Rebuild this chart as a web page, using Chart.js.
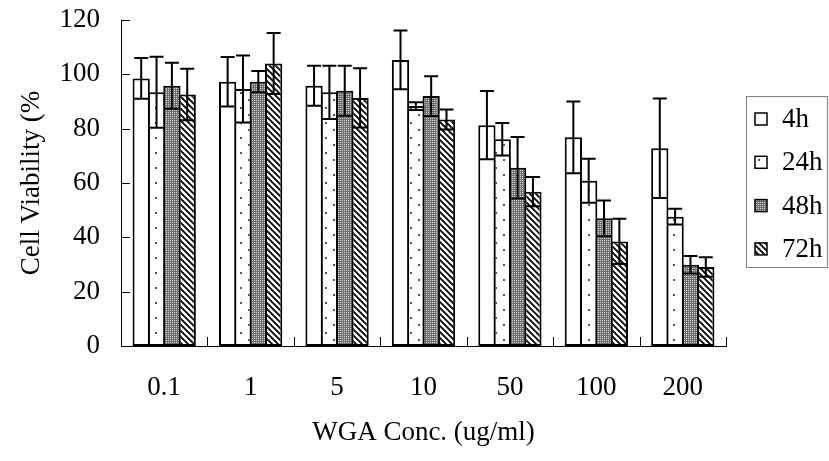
<!DOCTYPE html>
<html>
<head>
<meta charset="utf-8">
<script src="https://cdn.jsdelivr.net/npm/chart.js@4.4.0/dist/chart.umd.min.js"></script>
<style>
  html, body { margin: 0; padding: 0; background: #fff; }
  #wrap { width: 829px; height: 461px; }
</style>
</head>
<body>
<div id="wrap"><canvas id="myChart" width="829" height="461"></canvas></div>
<script>
// values
const categories = ['0.1', '1', '5', '10', '50', '100', '200'];
const seriesNames = ['4h', '24h', '48h', '72h'];
const v4h = [98.5, 97.3, 95.8, 105.3, 81.3, 76.8, 72.8];
const v24h = [93.4, 94.6, 93.4, 88.3, 76.1, 60.8, 47.6];
const v48h = [95.8, 97.3, 94.0, 92.0, 65.6, 47.0, 29.9];
const v72h = [92.6, 104.0, 91.3, 83.4, 56.8, 38.5, 29.1];
const err4h = [7.5, 9.1, 7.4, 10.8, 12.6, 13.2, 18.3];
const err24h = [13.1, 12.3, 9.8, 1.4, 6.0, 8.1, 2.9];
const err48h = [8.5, 3.9, 9.2, 7.3, 11.3, 6.6, 3.2];
const err72h = [9.5, 11.2, 10.9, 3.7, 5.4, 8.3, 3.6];
const yTicks = [0, 20, 40, 60, 80, 100, 120];

const FONT = '"Liberation Serif", "Times New Roman", serif';

function makePattern(w, h, paint) {
  const c = document.createElement('canvas');
  c.width = w;
  c.height = h;
  const g = c.getContext('2d');
  g.fillStyle = '#fff';
  g.fillRect(0, 0, w, h);
  paint(g);
  return g.createPattern(c, 'repeat');
}

const dots = makePattern(17, 15, g => {
  g.fillStyle = '#555';
  g.fillRect(2, 2, 2, 2);
  g.fillRect(10, 9, 2, 2);
});
const stipple = makePattern(2, 2, g => {
  g.fillStyle = '#6e6e6e';
  g.fillRect(0, 0, 2, 2);
  g.fillStyle = '#d4d4d4';
  g.fillRect(0, 0, 1, 1);
});
const hatch = makePattern(6, 6, g => {
  g.strokeStyle = '#000';
  g.lineWidth = 1.8;
  g.beginPath();
  g.moveTo(-1, -1); g.lineTo(7, 7);
  g.moveTo(-1, 5); g.lineTo(1, 7);
  g.moveTo(5, -1); g.lineTo(7, 1);
  g.stroke();
});

const fills = ['#ffffff', dots, stipple, hatch];
const values = [v4h, v24h, v48h, v72h];
const errors = [err4h, err24h, err48h, err72h];

const datasets = seriesNames.map((name, i) => ({
  label: name,
  data: values[i],
  errors: errors[i],
  backgroundColor: fills[i],
  borderColor: '#000',
  borderWidth: 2,
  borderSkipped: false,
  categoryPercentage: 0.71,
  barPercentage: 1.125
}));

// error bars: line from low to high, caps both ends
const errorBars = {
  id: 'errorBars',
  afterDatasetsDraw(chart) {
    const ctx = chart.ctx;
    const y = chart.scales.y;
    ctx.save();
    ctx.strokeStyle = '#000';
    ctx.lineWidth = 2;
    chart.data.datasets.forEach((ds, di) => {
      chart.getDatasetMeta(di).data.forEach((bar, i) => {
        const hi = y.getPixelForValue(ds.data[i] + ds.errors[i]);
        const lo = y.getPixelForValue(ds.data[i] - ds.errors[i]);
        const cap = 7;
        ctx.beginPath();
        ctx.moveTo(bar.x, hi); ctx.lineTo(bar.x, lo);
        ctx.moveTo(bar.x - cap, hi); ctx.lineTo(bar.x + cap, hi);
        ctx.moveTo(bar.x - cap, lo); ctx.lineTo(bar.x + cap, lo);
        ctx.stroke();
      });
    });
    ctx.restore();
  }
};

// inside tick marks and the boxed legend on the right
const decorations = {
  id: 'decorations',
  afterDraw(chart) {
    const ctx = chart.ctx;
    const area = chart.chartArea;
    const x = chart.scales.x;
    const y = chart.scales.y;
    ctx.save();
    ctx.strokeStyle = '#000';
    ctx.lineWidth = 1;
    ctx.beginPath();
    yTicks.forEach(t => {
      const py = Math.round(y.getPixelForValue(t)) + 0.5;
      ctx.moveTo(area.left, py); ctx.lineTo(area.left + 9, py);
    });
    const step = (area.right - area.left) / categories.length;
    for (let k = 0; k <= categories.length; k++) {
      const px = Math.round(x.getPixelForValue(0) - step / 2 + k * step) + 0.5;
      ctx.moveTo(px, area.bottom); ctx.lineTo(px, area.bottom - 9);
    }
    ctx.stroke();

    // legend
    const lx = area.right + 20;
    ctx.strokeStyle = '#808080';
    ctx.strokeRect(lx + 0.5, 96.5, 81, 171);
    ctx.font = '27px ' + FONT;
    ctx.textBaseline = 'middle';
    ctx.textAlign = 'left';
    chart.data.datasets.forEach((ds, i) => {
      const cy = 119 + i * 43.3;
      ctx.fillStyle = ds.backgroundColor;
      ctx.fillRect(lx + 9, cy - 6, 12, 12);
      ctx.strokeStyle = '#000';
      ctx.lineWidth = 1.5;
      ctx.strokeRect(lx + 9, cy - 6, 12, 12);
      ctx.fillStyle = '#000';
      ctx.fillText(ds.label, lx + 36, cy + 1);
    });
    ctx.restore();
  }
};

new Chart(document.getElementById('myChart'), {
  type: 'bar',
  data: { labels: categories, datasets: datasets },
  plugins: [errorBars, decorations],
  options: {
    responsive: false,
    animation: false,
    devicePixelRatio: 1,
    layout: { padding: { top: 20, right: 103, left: 0, bottom: 0 } },
    plugins: {
      legend: { display: false },
      tooltip: { enabled: false }
    },
    scales: {
      x: {
        grid: { display: false, drawTicks: false },
        border: { display: true, color: '#000', width: 1 },
        ticks: { color: '#000', padding: 26, font: { family: FONT, size: 27 } },
        title: {
          display: true,
          text: 'WGA Conc. (ug/ml)',
          color: '#000',
          font: { family: FONT, size: 27 },
          padding: { top: 0, bottom: 12 }
        },
        afterFit(scale) { scale.height = 115; }
      },
      y: {
        min: 0,
        max: 120,
        // hidden tick marks only push the labels away from the axis
        grid: { display: false, drawTicks: true, tickLength: 21 },
        border: { display: true, color: '#000', width: 1 },
        ticks: { stepSize: 20, color: '#000', padding: 0, font: { family: FONT, size: 27 } },
        title: {
          display: true,
          text: 'Cell Viability (%',
          color: '#000',
          font: { family: FONT, size: 27 },
          padding: { top: 16, bottom: 0 }
        },
        afterFit(scale) { scale.width = 121; }
      }
    }
  }
});
</script>
</body>
</html>
